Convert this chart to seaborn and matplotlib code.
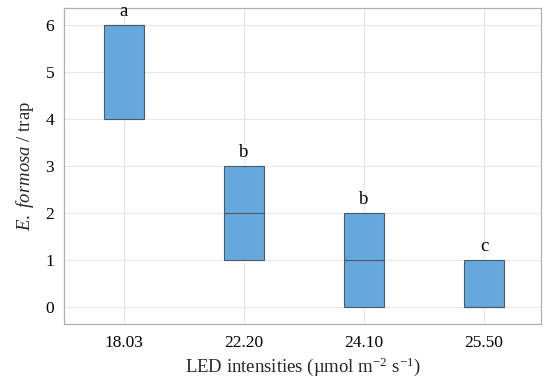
import numpy as np
import pandas as pd
import matplotlib
matplotlib.use("Agg")
import matplotlib.pyplot as plt
import seaborn as sns

# Data (trap counts per LED intensity; chosen so box stats match the figure)
categories = ["18.03", "22.20", "24.10", "25.50"]
counts_18_03 = [4, 4, 6, 6, 6]
counts_22_20 = [1, 1, 2, 3, 3]
counts_24_10 = [0, 0, 1, 2, 2]
counts_25_50 = [0, 0, 0, 1, 1]
letters = ["a", "b", "b", "c"]
yticks = [0, 1, 2, 3, 4, 5, 6]

series = [counts_18_03, counts_22_20, counts_24_10, counts_25_50]
df = pd.DataFrame({
    "intensity": np.repeat(categories, [len(s) for s in series]),
    "count": np.concatenate(series),
})

sns.set_theme(style="whitegrid")
plt.rcParams["font.family"] = ["Liberation Serif", "DejaVu Serif"]
plt.rcParams["mathtext.fontset"] = "custom"
plt.rcParams["mathtext.rm"] = "Liberation Serif"
plt.rcParams["mathtext.it"] = "Liberation Serif:italic"

fig, ax = plt.subplots(figsize=(5.5, 3.85), dpi=100)
fig.subplots_adjust(left=0.116, right=0.984, top=0.979, bottom=0.158)

sns.boxplot(data=df, x="intensity", y="count", order=categories, ax=ax,
            width=0.33, color="#67a8dc", saturation=1, showcaps=False,
            showfliers=False, linewidth=0.8,
            boxprops=dict(edgecolor="#4d5866", facecolor="#67a8dc"),
            medianprops=dict(color="#4d5866", linewidth=0.8),
            whiskerprops=dict(color="#4d5866", linewidth=0.8))

for i, (cat, s) in enumerate(zip(categories, series)):
    top = max(s)
    ax.text(i, top + 0.1, letters[i], ha="center", va="bottom",
            fontsize=13.5, color="black", clip_on=False)

ax.set_xlim(-0.5, 3.475)
ax.set_ylim(-0.36, 6.36)
ax.set_yticks(yticks)
ax.grid(True, color="#e8e8e8", linewidth=0.8)
ax.set_axisbelow(True)
for sp in ax.spines.values():
    sp.set_color("#b0b0b0")
    sp.set_linewidth(0.9)
ax.tick_params(axis="both", labelsize=12.5, length=3, color="#b0b0b0",
               labelcolor="black", pad=4)
ax.tick_params(axis="x", pad=5)
ax.set_xlabel(r"LED intensities (µmol m$^{-2}$ s$^{-1}$)", fontsize=13.5, labelpad=3)
ax.set_ylabel(r"$\mathit{E.\ formosa}$ / trap", fontsize=13.5, labelpad=7)

fig.savefig("out.png", dpi=100)
